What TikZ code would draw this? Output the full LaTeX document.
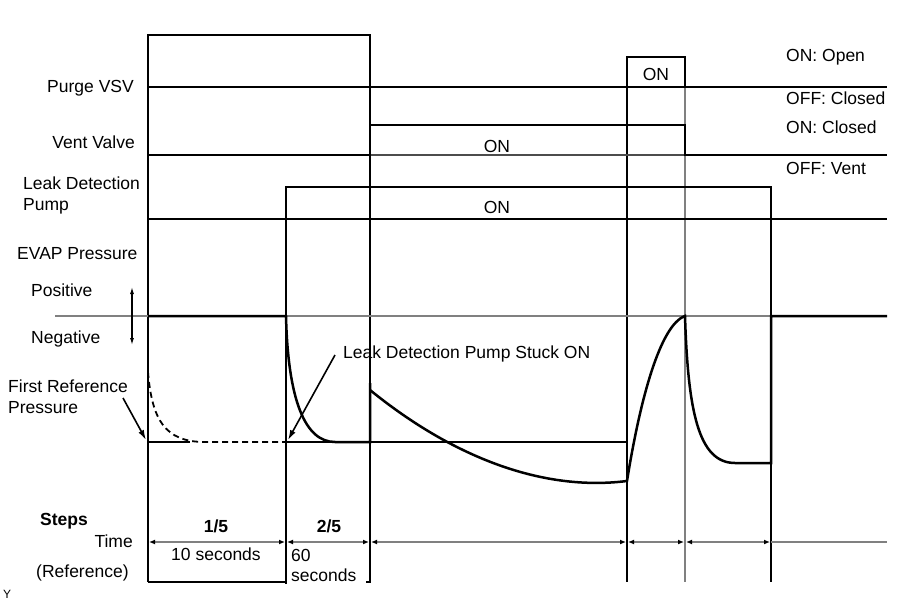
\documentclass[tikz,border=0pt]{standalone}
\usepackage{fontspec}
\setmainfont{Liberation Sans}
\usetikzlibrary{arrows.meta}
\definecolor{gline}{HTML}{808080}
\tikzset{
  thinl/.style={line width=1.2pt, black},
  greyl/.style={line width=1.6pt, gline},
  sig/.style={line width=2.5pt, black, line join=miter},
  lbl/.style={font=\fontsize{17.5}{21}\selectfont, inner sep=0pt},
  lblb/.style={font=\fontsize{17.5}{21}\selectfont\bfseries, inner sep=0pt},
  callout/.style={line width=1.6pt, -{Latex[length=10pt,width=6pt]}},
  taxis/.style={line width=1.6pt, gline, {Latex[length=6pt,width=5pt,black]}-{Latex[length=6pt,width=5pt,black]}},
}
\begin{document}
\begin{tikzpicture}[x=1pt,y=-1pt]
\useasboundingbox (0,0) rectangle (906,610);

% frame / time grid
\coordinate (tl) at (148,35);
\coordinate (tr) at (370,35);
\draw[thinl] (148,582) -- (tl) -- (tr) -- (370,582) -- (366,582);
\draw[thinl] (148,582) -- (286,582);
\draw[thinl] (286,187) -- (286,584);
\draw[thinl] (627,57) -- (627,582);
\draw[greyl] (685,87) -- (685,582);
\draw[thinl] (771,187) -- (771,582);

% Purge VSV
\draw[thinl] (148,87) -- (887,87);
\draw[sig] (627,87) -- (627,57) -- (685,57) -- (685,87);
\node[lbl, anchor=base] (onP) at (656,81) {ON};

% Vent valve
\draw[line width=1.2pt, black!70] (370,155) -- (685,155);
\draw[sig] (148,155) -- (370,155) -- (370,125) -- (685,125) -- (685,155) -- (887,155);
\node[lbl, anchor=base] (onV) at (497,153) {ON};

% Leak detection pump
\draw[thinl] (286,219) -- (771,219);
\draw[sig] (148,219) -- (286,219) -- (286,187) -- (771,187) -- (771,219) -- (887,219);
\node[lbl, anchor=base] (onL) at (497,213) {ON};

% EVAP pressure
\draw[greyl] (55,316) -- (887,316);
\draw[thinl] (148,442) -- (190,442);
\draw[thinl] (286,442) -- (627,442);
\draw[line width=1.8pt, dash pattern=on 6pt off 4pt] (148,372) .. controls (152,420) and (165,442) .. (205,442) -- (286,442);
\draw[sig] (148,316) -- (286,316) .. controls (288,400) and (305,442) .. (335,442) -- (370,442) -- (370,383);
\draw[sig] (370,390) .. controls (450,455) and (540,492) .. (627,481)
  .. controls (640,400) and (660,325) .. (685,316)
  .. controls (688,410) and (698,463) .. (735,463) -- (771,463) -- (771,316) -- (887,316);

% labels left
\node[lbl, anchor=base east] (pvsv) at (134,93) {Purge VSV};
\node[lbl, anchor=base east] (vv) at (135,149) {Vent Valve};
\node[lbl, anchor=base west] (ldp1) at (23,189) {Leak Detection};
\node[lbl, anchor=base west] (ldp2) at (23,210) {Pump};
\node[lbl, anchor=base west] (evap) at (17,259) {EVAP Pressure};
\node[lbl, anchor=base west] (pos) at (31,296) {Positive};
\node[lbl, anchor=base west] (neg) at (31,343) {Negative};
\node[lbl, anchor=base west] (fr1) at (8,392) {First Reference};
\node[lbl, anchor=base west] (fr2) at (8,413) {Pressure};
\node[lblb, anchor=base west] (steps) at (40,525) {Steps};
\node[lbl, anchor=base east] (time) at (133,547) {Time};
\node[lbl, anchor=base west] (refr) at (36,577) {(Reference)};
\node[inner sep=0pt, anchor=base west, font=\fontsize{12}{14}\selectfont] (yy) at (3,598) {Y};

\coordinate (pa) at (132,287);
\coordinate (pb) at (132,345);
\draw[line width=1.2pt, {Latex[length=7pt,width=4pt]}-{Latex[length=7pt,width=4pt]}] (pa) -- (pb);

% callouts
\coordinate (frs) at (123,398);
\coordinate (fre) at (146,440);
\draw[callout] (frs) -- (fre);
\node[lbl, anchor=base west] (stuck) at (343,358) {Leak Detection Pump Stuck ON};
\coordinate (sts) at (335,355);
\coordinate (ste) at (288,440);
\draw[callout] (sts) -- (ste);

% right labels
\node[lbl, anchor=base west] (onopen) at (786,62) {ON: Open};
\node[lbl, anchor=base west] (offcl) at (786,105) {OFF: Closed};
\node[lbl, anchor=base west] (oncl) at (786,134) {ON: Closed};
\node[lbl, anchor=base west] (offv) at (786,175) {OFF: Vent};

% time axis
\coordinate (t0) at (148,542);
\coordinate (t1) at (286,542);
\coordinate (t2) at (370,542);
\coordinate (t3) at (627,542);
\coordinate (t4) at (685,542);
\coordinate (t5) at (771,542);
\coordinate (t6) at (887,542);
\draw[taxis] ([xshift=1pt]t0) -- ([xshift=-1pt]t1);
\draw[taxis] ([xshift=1pt]t1) -- ([xshift=-1pt]t2);
\draw[taxis] ([xshift=1pt]t2) -- ([xshift=-1pt]t3);
\draw[taxis] ([xshift=1pt]t3) -- ([xshift=-1pt]t4);
\draw[taxis] ([xshift=1pt]t4) -- ([xshift=-1pt]t5);
\draw[line width=1.6pt, gline] (t5) -- (t6);

\node[lblb, anchor=base] (s1) at (216,532) {1/5};
\node[lblb, anchor=base] (s2) at (329,532) {2/5};
\node[lbl, anchor=base] (d1) at (216,560) {10 seconds};
\node[lbl, anchor=base west] (d2a) at (291,561) {60};
\node[lbl, anchor=base west] (d2b) at (291,581) {seconds};
\end{tikzpicture}
\end{document}
